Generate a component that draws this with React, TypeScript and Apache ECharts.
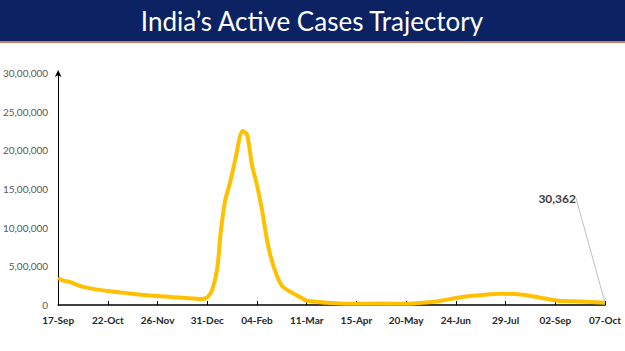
import React, { useEffect, useRef } from "react";
import * as echarts from "echarts";

// Days since 17-Sep-2021 and active cases
const days = [0, 3.5, 8, 17.5, 35, 45, 70, 87.5, 101.5, 105, 108.5, 112, 114.5, 117.6, 121, 124.6, 130, 133, 136.5, 140, 143.5, 147.7, 152, 157.5, 164.5, 171.5, 175, 192.5, 210, 227.5, 245, 262.5, 269.5, 280, 290.5, 311.5, 325.5, 339.5, 352, 367.5, 385];
const activeCases = [350000, 315000, 300000, 235000, 180000, 160000, 115000, 95000, 78000, 100000, 200000, 470000, 950000, 1350000, 1580000, 1870000, 2250000, 2200000, 1810000, 1550000, 1230000, 780000, 480000, 250000, 160000, 90000, 55000, 26000, 15000, 18000, 17000, 40000, 55000, 90000, 115000, 145000, 135000, 95000, 55000, 45000, 30362];
const xTickLabels = ["17-Sep", "22-Oct", "26-Nov", "31-Dec", "04-Feb", "11-Mar", "15-Apr", "20-May", "24-Jun", "29-Jul", "02-Sep", "07-Oct"];
const titleText = "India\u2019s Active Cases Trajectory";
const lastLabel = "30,362";

function indianFormat(v: number): string {
  if (v === 0) return "0";
  const s = Math.round(v).toString();
  if (s.length <= 3) return s;
  const last3 = s.slice(-3);
  let rest = s.slice(0, -3);
  const parts: string[] = [];
  while (rest.length > 2) {
    parts.unshift(rest.slice(-2));
    rest = rest.slice(0, -2);
  }
  if (rest) parts.unshift(rest);
  return parts.join(",") + "," + last3;
}

export default function App() {
  const ref = useRef<HTMLDivElement>(null);
  useEffect(() => {
    if (!ref.current) return;
    const chart = echarts.init(ref.current, undefined, { renderer: "svg" });
    const lastIdx = days.length - 1;
    const data = days.map((d, i) => {
      const item: any = { value: [d, activeCases[i]] };
      if (i === lastIdx) {
        item.label = {
          show: true,
          position: "top",
          formatter: lastLabel,
          fontWeight: "bold",
          fontSize: 12,
          color: "#404040",
          opacity: 1,
          fontFamily: "Lato, sans-serif",
        };
        item.labelLine = { show: true, lineStyle: { color: "#BFBFBF", width: 1 } };
      }
      return item;
    });
    chart.setOption({
      animation: false,
      backgroundColor: "#ffffff",
      graphic: [
        { type: "rect", shape: { x: 0, y: 0, width: 625, height: 41 }, style: { fill: "#0B2263" } },
        { type: "rect", shape: { x: 0, y: 41, width: 625, height: 2 }, style: { fill: "#C97F5F" } },
        {
          type: "text",
          x: 312,
          y: 21,
          style: {
            text: titleText,
            fill: "#ffffff",
            font: "26px Lato, sans-serif",
            align: "center",
            verticalAlign: "middle",
          },
        },
      ],
      grid: { left: 55, right: 20, top: 73, bottom: 46 },
      xAxis: {
        type: "value",
        min: 0,
        max: 385,
        interval: 35,
        splitLine: { show: false },
        axisLine: { show: true, lineStyle: { color: "#000000", width: 1.5 } },
        axisTick: { show: true, inside: true, length: 4, lineStyle: { color: "#000000" } },
        axisLabel: {
          formatter: (v: number) => xTickLabels[Math.round(v / 35)] ?? "",
          fontWeight: "bold",
          fontSize: 10,
          color: "#262626",
          fontFamily: "Lato, sans-serif",
          margin: 10,
          showMaxLabel: true,
          showMinLabel: true,
        },
      },
      yAxis: {
        type: "value",
        min: 0,
        max: 3000000,
        interval: 500000,
        splitLine: { show: false },
        axisLine: {
          show: true,
          symbol: ["none", "arrow"],
          symbolSize: [5, 7],
          symbolOffset: [0, 3],
          lineStyle: { color: "#000000", width: 1 },
        },
        axisTick: { show: false },
        axisLabel: {
          formatter: (v: number) => indianFormat(v),
          fontSize: 10,
          color: "#595959",
          fontFamily: "Lato, sans-serif",
          margin: 10,
        },
      },
      series: [
        {
          type: "line",
          data,
          smooth: 0.3,
          showSymbol: true,
          symbol: "circle",
          symbolSize: 0.01,
          itemStyle: { color: "rgba(255,192,0,0)" },
          lineStyle: { color: "#FFC000", width: 4 },
          labelLayout: { x: 576, y: 198, align: "right", verticalAlign: "middle" },
          labelLine: { show: true, lineStyle: { color: "#BFBFBF", width: 1 } },
        },
      ],
    });
    return () => chart.dispose();
  }, []);
  return <div ref={ref} style={{ width: 625, height: 351, position: "fixed", left: 0, top: 0 }} />;
}
